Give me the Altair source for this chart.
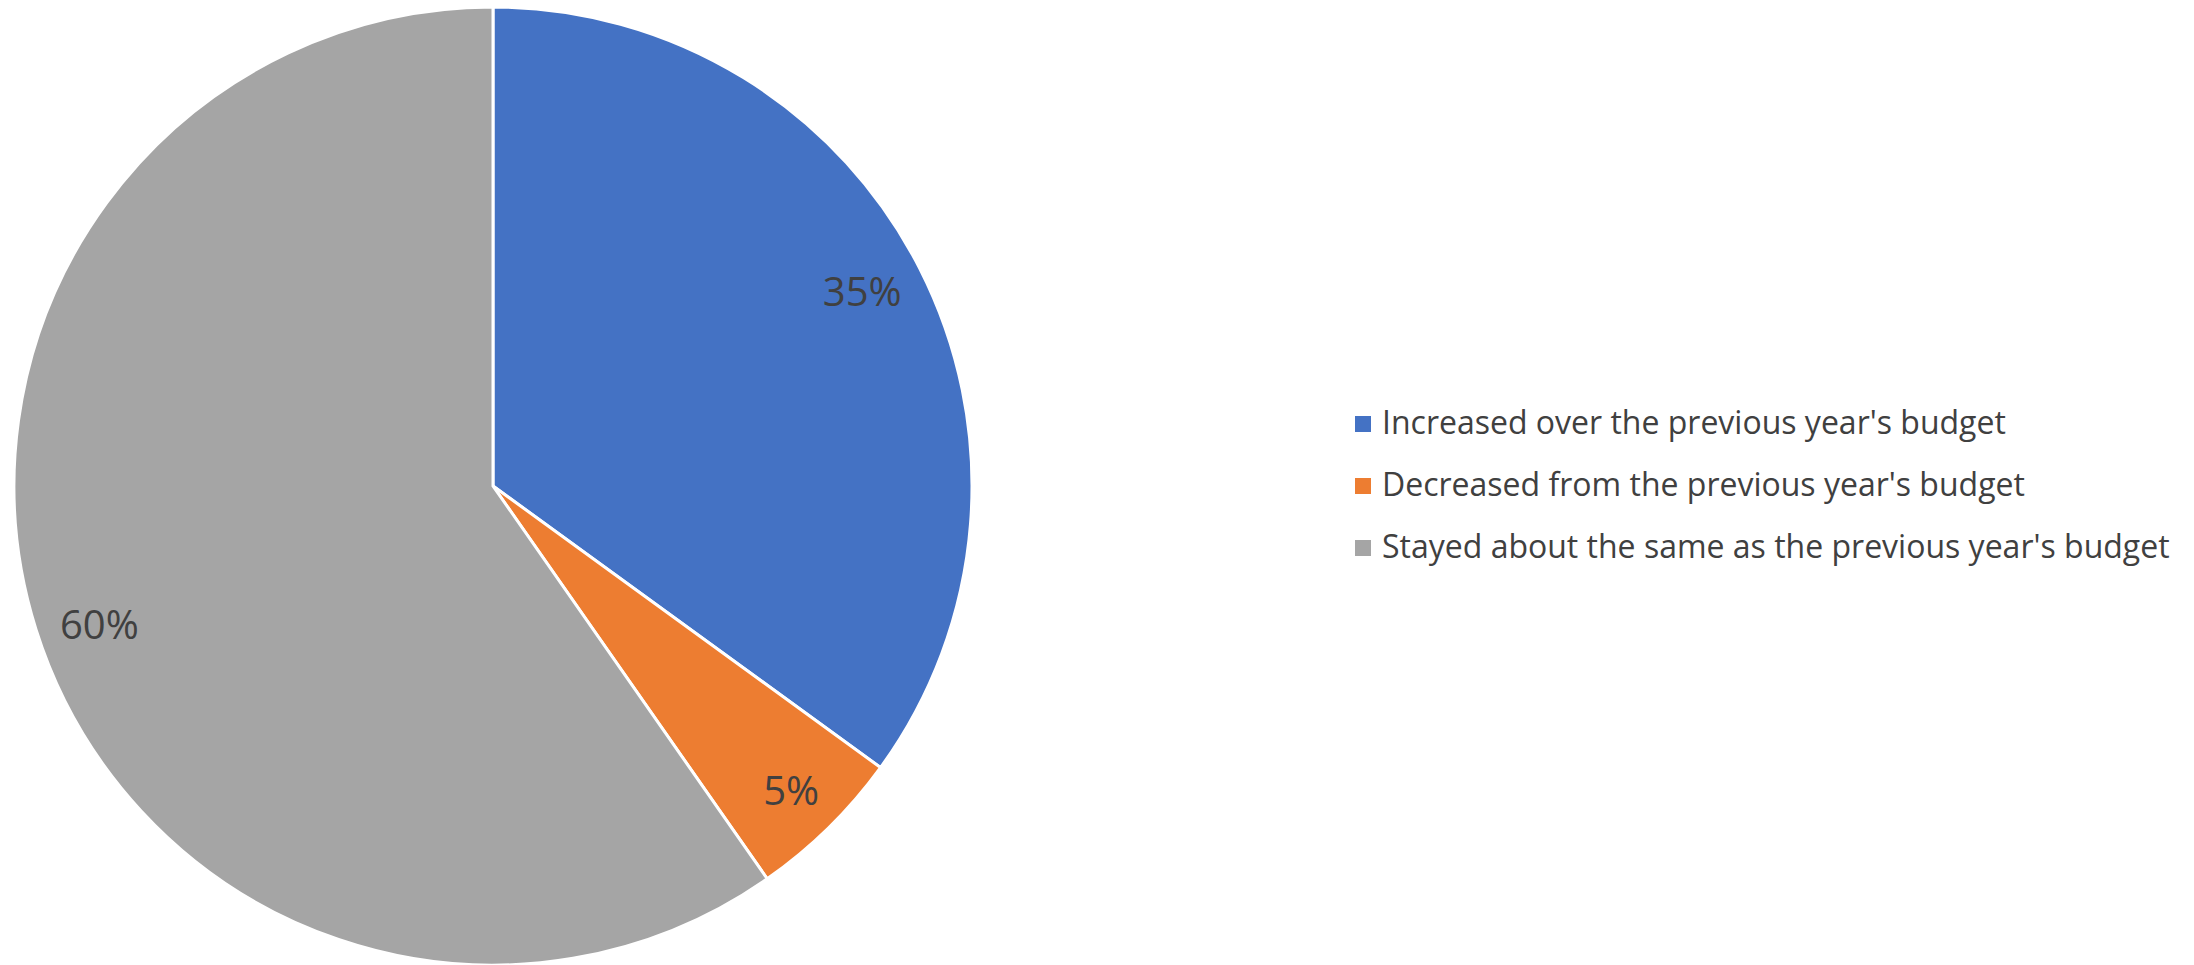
import altair as alt
import pandas as pd

categories = [
    "Increased over the previous year's budget",
    "Decreased from the previous year's budget",
    "Stayed about the same as the previous year's budget",
]
values = [35.0, 5.3, 59.7]
labels = ["35%", "5%", "60%"]
colors = ["#4472C4", "#ED7D31", "#A5A5A5"]

df = pd.DataFrame({"category": categories, "value": values, "label": labels, "order": [0, 1, 2]})

CX, CY, R = 493, 486, 479
FONT = "Open Sans"

base = alt.Chart(df).encode(
    theta=alt.Theta("value:Q", stack=True),
    order=alt.Order("order:Q"),
)

pie = base.mark_arc(stroke="white", strokeWidth=3).encode(
    x=alt.value(CX),
    y=alt.value(CY),
    radius=alt.value(R),
    color=alt.Color(
        "category:N",
        sort=categories,
        scale=alt.Scale(domain=categories, range=colors),
        legend=alt.Legend(
            title=None,
            orient="none",
            legendX=1347,
            legendY=408,
            padding=0,
            symbolType="square",
            symbolSize=256,
            symbolStrokeWidth=0,
            labelFontSize=32,
            labelFont=FONT,
            labelColor="#404040",
            labelLimit=1000,
            rowPadding=30,
            symbolOffset=0,
            labelOffset=3,
        ),
    ),
)

def label_layer(lbl, dx, dy):
    return base.mark_text(
        font=FONT, fontSize=40, color="#404040", align="center", baseline="middle", dx=dx, dy=dy
    ).encode(
        x=alt.value(CX),
        y=alt.value(CY),
        radius=alt.value(420),
        text="label:N",
        opacity=alt.condition(alt.datum.label == lbl, alt.value(1), alt.value(0)),
    )

text_layers = [label_layer("35%", -5, -1), label_layer("5%", 4, 7), label_layer("60%", 7, 15)]

chart = (
    alt.layer(pie, *text_layers)
    .properties(width=2194, height=965, autosize=alt.AutoSizeParams(type="none"), padding=0)
    .configure_view(stroke=None)
)

chart.save("out.html", embed_options={"renderer": "svg", "actions": False})
